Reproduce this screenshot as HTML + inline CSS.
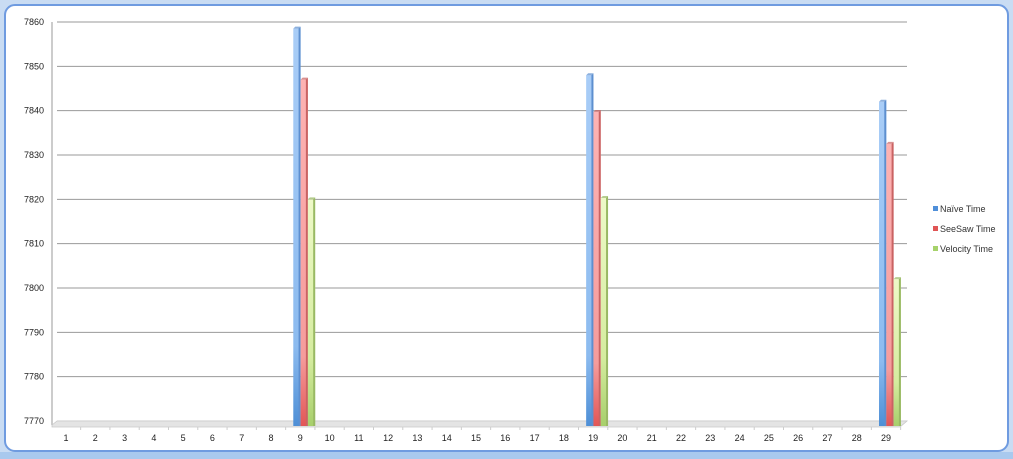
<!DOCTYPE html>
<html><head><meta charset="utf-8"><style>
html,body{margin:0;padding:0;background:#fff;}
svg{display:block;font-family:"Liberation Sans",sans-serif;}
</style></head><body>
<svg id="chart" width="1013" height="459" viewBox="0 0 1013 459">
<defs>
<linearGradient id="gb" x1="0" y1="0" x2="0" y2="1"><stop offset="0" stop-color="#a9cdf7"/><stop offset="0.8" stop-color="#8cbbef"/><stop offset="1" stop-color="#4e8fd6"/></linearGradient>
<linearGradient id="gr" x1="0" y1="0" x2="0" y2="1"><stop offset="0" stop-color="#fdb3b3"/><stop offset="0.8" stop-color="#f59c9c"/><stop offset="1" stop-color="#e25656"/></linearGradient>
<linearGradient id="gg" x1="0" y1="0" x2="0" y2="1"><stop offset="0" stop-color="#eef9c8"/><stop offset="0.7" stop-color="#d5ec9f"/><stop offset="1" stop-color="#a7cf6b"/></linearGradient>
</defs>
<rect x="0" y="0" width="1013" height="459" fill="#c9dcf3"/>
<rect x="0" y="452" width="1013" height="7" fill="#a9c9ee"/>
<rect x="5" y="5" width="1003" height="446" rx="10" fill="#fff" stroke="#6f9be0" stroke-width="2"/>
<g id="grid"></g>
<g id="bars"></g>
<g id="xlabels"></g>
<g id="ylabels"></g>
<g font-size="9" fill="#333">
<g><rect x="933" y="206" width="5" height="5" fill="#4f8fd9"/><text x="940" y="212">Naïve Time</text></g>
<g><rect x="933" y="226" width="5" height="5" fill="#e05555"/><text x="940" y="232">SeeSaw Time</text></g>
<g><rect x="933" y="246" width="5" height="5" fill="#a6d26a"/><text x="940" y="252">Velocity Time</text></g>
</g>
</svg>
<script>
const categories = Array.from({length:29},(_,i)=>String(i+1));
const naive =    [null,null,null,null,null,null,null,null,7858.5,null,null,null,null,null,null,null,null,null,7848,null,null,null,null,null,null,null,null,null,7842];
const seesaw =   [null,null,null,null,null,null,null,null,7847,null,null,null,null,null,null,null,null,null,7839.7,null,null,null,null,null,null,null,null,null,7832.5];
const velocity = [null,null,null,null,null,null,null,null,7820,null,null,null,null,null,null,null,null,null,7820.3,null,null,null,null,null,null,null,null,null,7802];
const yTicks = [7770,7780,7790,7800,7810,7820,7830,7840,7850,7860];
const NS='http://www.w3.org/2000/svg';
const yMin=7770,yMax=7860,yTop=22,yBot=421;
const y=v=>yBot-(v-yMin)/(yMax-yMin)*(yBot-yTop);
const x0=66,step=(886-66)/28;
const x=i=>x0+i*step;
function mk(tag,attrs,parent){const e=document.createElementNS(NS,tag);for(const k in attrs)e.setAttribute(k,attrs[k]);parent.appendChild(e);return e;}
const grid=document.getElementById('grid');
mk('line',{x1:52,y1:yTop,x2:52,y2:yBot+4,stroke:'#bbb','stroke-width':1.5},grid);
yTicks.forEach(t=>{
  const gy=y(t);
  const l=mk('line',{x1:57,y1:gy,x2:907,y2:gy,stroke:t===yMin?'#ccc':'#999','stroke-width':1},grid);
  
  
  const tx=mk('text',{x:44,y:gy+3,'text-anchor':'end','font-size':9,fill:'#222'},document.getElementById('ylabels'));
  tx.textContent=t;
  
  
});
mk('path',{d:`M52 ${yBot+4} L57 ${yBot} L907 ${yBot} L900 ${yBot+6} L52 ${yBot+6} Z`,fill:'#e4e4e4',stroke:'#c8c8c8','stroke-width':0.8},grid);
categories.forEach((c,i)=>{
  const t=mk('text',{x:x(i),y:441,'text-anchor':'middle','font-size':9,fill:'#222'},document.getElementById('xlabels'));
  t.textContent=c;
  
  
  mk('line',{x1:x(i)+step/2,y1:yBot+6,x2:x(i)+step/2,y2:yBot+9,stroke:'#ccc'},grid);
});
const bars=document.getElementById('bars');
const series=[[naive,'url(#gb)','#5d8fcf','naive'],[seesaw,'url(#gr)','#c96363','seesaw'],[velocity,'url(#gg)','#99b964','velocity']];
const bw=7.3;
categories.forEach((c,i)=>{
  series.forEach(([arr,fill,side,nm],s)=>{
    const v=arr[i]; if(v==null) return;
    const bx=x(i)-7+s*bw, top=y(v);
    const g=mk('g',{},bars);
    
    
    mk('rect',{x:bx,y:top,width:bw,height:yBot+5-top,fill:fill},g);
    mk('path',{d:`M${bx+bw-2} ${top} L${bx+bw} ${top-2} L${bx+bw} ${yBot+5} L${bx+bw-2} ${yBot+5} Z`,fill:side},g);
    mk('path',{d:`M${bx} ${top} L${bx+2} ${top-2} L${bx+bw} ${top-2} L${bx+bw-2} ${top} Z`,fill:side,opacity:0.7},g);
  });
});
</script>
</body></html>
